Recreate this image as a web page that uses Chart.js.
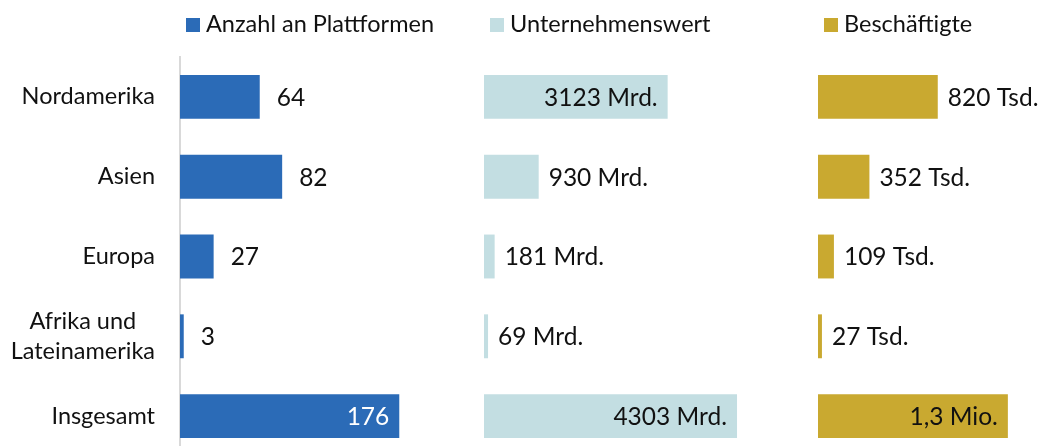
<!DOCTYPE html>
<html lang="de">
<head>
<meta charset="utf-8">
<script src="https://cdn.jsdelivr.net/npm/chart.js@4"></script>
<style>
  html, body { margin: 0; padding: 0; background: #fff; overflow: hidden; }
  #wrap { position: relative; width: 1049px; height: 456px; }
</style>
</head>
<body>
<div id="wrap"><canvas id="chart"></canvas></div>
<script>
// Daten
const regionen = ['Nordamerika', 'Asien', 'Europa', ['Afrika und', 'Lateinamerika'], 'Insgesamt'];
const plattformen = [64, 82, 27, 3, 176];
const unternehmenswert = [3123, 930, 181, 69, 4303];      // Mrd.
const beschaeftigte = [820, 352, 109, 27, 1300];           // Tsd.
const serienNamen = ['Anzahl an Plattformen', 'Unternehmenswert', 'Beschäftigte'];
const farben = ['#2B6BB7', '#C3DEE2', '#C9A930'];
// Label im Balken (true) oder dahinter
const labelInnen = [
    [false, false, false, false, true],
    [true, false, false, false, true],
    [false, false, false, false, true]
];

const schrift = 'Lato, "Open Sans", sans-serif';

function labelText(serie, wert) {
    if (serie === 0) return String(wert);
    if (serie === 1) return wert + ' Mrd.';
    if (wert >= 1000) {
        return (wert / 1000).toLocaleString('de-DE', { maximumFractionDigits: 1 }) + ' Mio.';
    }
    return wert + ' Tsd.';
}

// Legende über jedem Block
const legendePlugin = {
    id: 'blockLegende',
    afterDraw(chart) {
        const ctx = chart.ctx;
        ctx.save();
        ctx.font = '23.5px ' + schrift;
        ctx.textBaseline = 'middle';
        ctx.textAlign = 'left';
        ['x1', 'x2', 'x3'].forEach((id, i) => {
            const x = chart.scales[id].left + 6;
            ctx.fillStyle = farben[i];
            ctx.fillRect(x, 18, 14, 14);
            ctx.fillStyle = '#111';
            ctx.fillText(serienNamen[i], x + 20, 24);
        });
        ctx.restore();
    }
};

// Kategorienamen links (mehrzeilige zentriert)
const kategoriePlugin = {
    id: 'kategorien',
    afterDraw(chart) {
        const ctx = chart.ctx;
        const y = chart.scales.y;
        const rechts = y.right - 25;
        ctx.save();
        ctx.font = '23.5px ' + schrift;
        ctx.fillStyle = '#111';
        ctx.textBaseline = 'middle';
        chart.data.labels.forEach((lab, i) => {
            const py = y.getPixelForTick(i);
            if (Array.isArray(lab)) {
                const breite = Math.max(...lab.map(t => ctx.measureText(t).width));
                const mitte = rechts - breite / 2;
                ctx.textAlign = 'center';
                const zeile = 30;
                lab.forEach((t, k) => {
                    ctx.fillText(t, mitte, py + (k - (lab.length - 1) / 2) * zeile);
                });
            } else {
                ctx.textAlign = 'right';
                ctx.fillText(lab, rechts, py);
            }
        });
        ctx.restore();
    }
};

// Wertelabels
const wertPlugin = {
    id: 'werte',
    afterDatasetsDraw(chart) {
        const ctx = chart.ctx;
        const abstand = [17, 10, 10];
        ctx.save();
        ctx.font = '24.5px ' + schrift;
        ctx.textBaseline = 'middle';
        chart.data.datasets.forEach((ds, i) => {
            const meta = chart.getDatasetMeta(i);
            meta.data.forEach((bar, j) => {
                const text = labelText(i, ds.data[j]);
                if (labelInnen[i][j]) {
                    ctx.textAlign = 'right';
                    ctx.fillStyle = i === 0 ? '#fff' : '#111';
                    ctx.fillText(text, bar.x - 10, bar.y + 1);
                } else {
                    ctx.textAlign = 'left';
                    ctx.fillStyle = '#111';
                    ctx.fillText(text, bar.x + abstand[i], bar.y + 1);
                }
            });
        });
        ctx.restore();
    }
};

const unsichtbareAchse = (max, gewicht) => ({
    type: 'linear',
    position: 'bottom',
    stack: 'bloecke',
    stackWeight: gewicht,
    min: 0,
    max: max,
    ticks: { display: false },
    grid: { display: false, drawTicks: false },
    border: { display: false }
});

new Chart(document.getElementById('chart'), {
    type: 'bar',
    data: {
        labels: regionen,
        datasets: [
            { label: serienNamen[0], data: plattformen, backgroundColor: farben[0], xAxisID: 'x1' },
            { label: serienNamen[1], data: unternehmenswert, backgroundColor: farben[1], xAxisID: 'x2' },
            { label: serienNamen[2], data: beschaeftigte, backgroundColor: farben[2], xAxisID: 'x3' }
        ].map(d => Object.assign(d, {
            yAxisID: 'y',
            grouped: false,
            categoryPercentage: 0.55,
            barPercentage: 1,
            borderWidth: 0
        }))
    },
    options: {
        indexAxis: 'y',
        responsive: true,
        maintainAspectRatio: false,
        animation: false,
        layout: { padding: { top: 57, right: 9, bottom: 0, left: 0 } },
        plugins: {
            legend: { display: false },
            tooltip: { enabled: false }
        },
        scales: {
            y: {
                position: 'left',
                ticks: { display: false },
                grid: { display: false, drawTicks: false },
                border: { display: true, color: '#D9D9D9', width: 2 },
                afterFit(scale) { scale.width = 180; }
            },
            x1: unsichtbareAchse(244, 304),
            x2: unsichtbareAchse(5680, 334),
            x3: unsichtbareAchse(1520, 222)
        }
    },
    plugins: [legendePlugin, kategoriePlugin, wertPlugin]
});
</script>
</body>
</html>
